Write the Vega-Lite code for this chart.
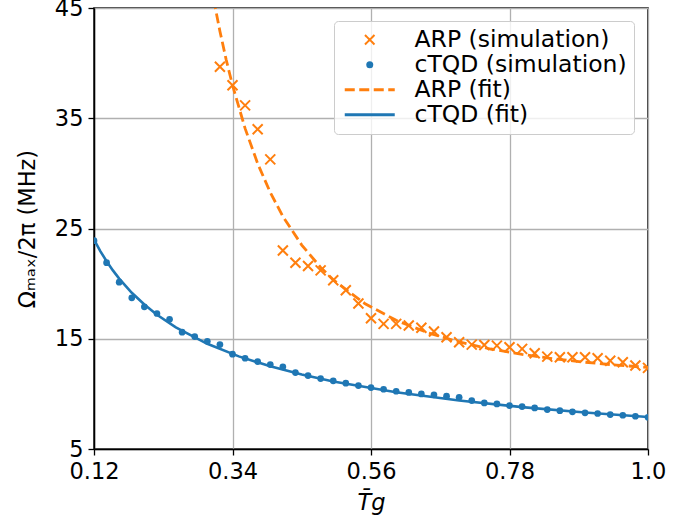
{
  "$schema": "https://vega.github.io/schema/vega-lite/v6.json",
  "width": 554,
  "height": 441,
  "autosize": {"type": "none"},
  "padding": {"left": 94, "top": 8, "right": 52, "bottom": 79},
  "background": "white",
  "config": {
    "font": "DejaVu Sans",
    "view": {"stroke": "black", "strokeWidth": 1.5},
    "axis": {
      "labelFont": "DejaVu Sans", "labelFontSize": 22.5, "labelColor": "black",
      "titleFont": "DejaVu Sans", "titleFontSize": 22.5, "titleColor": "black", "titleFontWeight": "normal",
      "grid": true, "gridColor": "#b0b0b0", "gridWidth": 1.3,
      "domainColor": "black", "domainWidth": 1.5,
      "tickColor": "black", "tickSize": 6, "tickWidth": 1.3, "labelPadding": 5
    }
  },
  "datasets": {
    "sim": [
      {"series": "ARP (simulation)", "Tg": 0.32, "omega": 39.67},
      {"series": "ARP (simulation)", "Tg": 0.34, "omega": 38.0},
      {"series": "ARP (simulation)", "Tg": 0.36, "omega": 36.17},
      {"series": "ARP (simulation)", "Tg": 0.38, "omega": 34.0},
      {"series": "ARP (simulation)", "Tg": 0.40, "omega": 31.27},
      {"series": "ARP (simulation)", "Tg": 0.42, "omega": 23.0},
      {"series": "ARP (simulation)", "Tg": 0.44, "omega": 21.9},
      {"series": "ARP (simulation)", "Tg": 0.46, "omega": 21.6},
      {"series": "ARP (simulation)", "Tg": 0.48, "omega": 21.2},
      {"series": "ARP (simulation)", "Tg": 0.50, "omega": 20.3},
      {"series": "ARP (simulation)", "Tg": 0.52, "omega": 19.4},
      {"series": "ARP (simulation)", "Tg": 0.54, "omega": 18.2},
      {"series": "ARP (simulation)", "Tg": 0.56, "omega": 16.86},
      {"series": "ARP (simulation)", "Tg": 0.58, "omega": 16.35},
      {"series": "ARP (simulation)", "Tg": 0.60, "omega": 16.35},
      {"series": "ARP (simulation)", "Tg": 0.62, "omega": 16.2},
      {"series": "ARP (simulation)", "Tg": 0.64, "omega": 16.0},
      {"series": "ARP (simulation)", "Tg": 0.66, "omega": 15.66},
      {"series": "ARP (simulation)", "Tg": 0.68, "omega": 15.14},
      {"series": "ARP (simulation)", "Tg": 0.70, "omega": 14.68},
      {"series": "ARP (simulation)", "Tg": 0.72, "omega": 14.47},
      {"series": "ARP (simulation)", "Tg": 0.74, "omega": 14.44},
      {"series": "ARP (simulation)", "Tg": 0.76, "omega": 14.38},
      {"series": "ARP (simulation)", "Tg": 0.78, "omega": 14.23},
      {"series": "ARP (simulation)", "Tg": 0.80, "omega": 14.08},
      {"series": "ARP (simulation)", "Tg": 0.82, "omega": 13.68},
      {"series": "ARP (simulation)", "Tg": 0.84, "omega": 13.38},
      {"series": "ARP (simulation)", "Tg": 0.86, "omega": 13.32},
      {"series": "ARP (simulation)", "Tg": 0.88, "omega": 13.32},
      {"series": "ARP (simulation)", "Tg": 0.90, "omega": 13.32},
      {"series": "ARP (simulation)", "Tg": 0.92, "omega": 13.23},
      {"series": "ARP (simulation)", "Tg": 0.94, "omega": 13.0},
      {"series": "ARP (simulation)", "Tg": 0.96, "omega": 12.87},
      {"series": "ARP (simulation)", "Tg": 0.98, "omega": 12.57},
      {"series": "ARP (simulation)", "Tg": 1.00, "omega": 12.36},
      {"series": "cTQD (simulation)", "Tg": 0.12, "omega": 23.9},
      {"series": "cTQD (simulation)", "Tg": 0.14, "omega": 21.9},
      {"series": "cTQD (simulation)", "Tg": 0.16, "omega": 20.13},
      {"series": "cTQD (simulation)", "Tg": 0.18, "omega": 18.71},
      {"series": "cTQD (simulation)", "Tg": 0.20, "omega": 17.9},
      {"series": "cTQD (simulation)", "Tg": 0.22, "omega": 17.29},
      {"series": "cTQD (simulation)", "Tg": 0.24, "omega": 16.77},
      {"series": "cTQD (simulation)", "Tg": 0.26, "omega": 15.6},
      {"series": "cTQD (simulation)", "Tg": 0.28, "omega": 15.2},
      {"series": "cTQD (simulation)", "Tg": 0.30, "omega": 14.77},
      {"series": "cTQD (simulation)", "Tg": 0.32, "omega": 14.47},
      {"series": "cTQD (simulation)", "Tg": 0.34, "omega": 13.6},
      {"series": "cTQD (simulation)", "Tg": 0.36, "omega": 13.23},
      {"series": "cTQD (simulation)", "Tg": 0.38, "omega": 12.93},
      {"series": "cTQD (simulation)", "Tg": 0.40, "omega": 12.66},
      {"series": "cTQD (simulation)", "Tg": 0.42, "omega": 12.45},
      {"series": "cTQD (simulation)", "Tg": 0.44, "omega": 11.93},
      {"series": "cTQD (simulation)", "Tg": 0.46, "omega": 11.66},
      {"series": "cTQD (simulation)", "Tg": 0.48, "omega": 11.39},
      {"series": "cTQD (simulation)", "Tg": 0.50, "omega": 11.18},
      {"series": "cTQD (simulation)", "Tg": 0.52, "omega": 10.97},
      {"series": "cTQD (simulation)", "Tg": 0.54, "omega": 10.75},
      {"series": "cTQD (simulation)", "Tg": 0.56, "omega": 10.57},
      {"series": "cTQD (simulation)", "Tg": 0.58, "omega": 10.42},
      {"series": "cTQD (simulation)", "Tg": 0.60, "omega": 10.24},
      {"series": "cTQD (simulation)", "Tg": 0.62, "omega": 10.13},
      {"series": "cTQD (simulation)", "Tg": 0.64, "omega": 10.0},
      {"series": "cTQD (simulation)", "Tg": 0.66, "omega": 9.91},
      {"series": "cTQD (simulation)", "Tg": 0.68, "omega": 9.79},
      {"series": "cTQD (simulation)", "Tg": 0.70, "omega": 9.69},
      {"series": "cTQD (simulation)", "Tg": 0.72, "omega": 9.39},
      {"series": "cTQD (simulation)", "Tg": 0.74, "omega": 9.18},
      {"series": "cTQD (simulation)", "Tg": 0.76, "omega": 9.09},
      {"series": "cTQD (simulation)", "Tg": 0.78, "omega": 8.94},
      {"series": "cTQD (simulation)", "Tg": 0.80, "omega": 8.85},
      {"series": "cTQD (simulation)", "Tg": 0.82, "omega": 8.73},
      {"series": "cTQD (simulation)", "Tg": 0.84, "omega": 8.58},
      {"series": "cTQD (simulation)", "Tg": 0.86, "omega": 8.48},
      {"series": "cTQD (simulation)", "Tg": 0.88, "omega": 8.37},
      {"series": "cTQD (simulation)", "Tg": 0.90, "omega": 8.28},
      {"series": "cTQD (simulation)", "Tg": 0.92, "omega": 8.22},
      {"series": "cTQD (simulation)", "Tg": 0.94, "omega": 8.12},
      {"series": "cTQD (simulation)", "Tg": 0.96, "omega": 8.06},
      {"series": "cTQD (simulation)", "Tg": 0.98, "omega": 7.97},
      {"series": "cTQD (simulation)", "Tg": 1.00, "omega": 7.88}
    ],
    "fit": [
      {"series": "ARP (fit)", "Tg": 0.31, "omega": 45.8},
      {"series": "ARP (fit)", "Tg": 0.32, "omega": 42.9},
      {"series": "ARP (fit)", "Tg": 0.33, "omega": 40.3},
      {"series": "ARP (fit)", "Tg": 0.34, "omega": 38.0},
      {"series": "ARP (fit)", "Tg": 0.36, "omega": 34.08},
      {"series": "ARP (fit)", "Tg": 0.38, "omega": 30.89},
      {"series": "ARP (fit)", "Tg": 0.40, "omega": 28.27},
      {"series": "ARP (fit)", "Tg": 0.42, "omega": 26.1},
      {"series": "ARP (fit)", "Tg": 0.45, "omega": 23.5},
      {"series": "ARP (fit)", "Tg": 0.48, "omega": 21.47},
      {"series": "ARP (fit)", "Tg": 0.50, "omega": 20.35},
      {"series": "ARP (fit)", "Tg": 0.55, "omega": 18.2},
      {"series": "ARP (fit)", "Tg": 0.60, "omega": 16.67},
      {"series": "ARP (fit)", "Tg": 0.65, "omega": 15.55},
      {"series": "ARP (fit)", "Tg": 0.70, "omega": 14.71},
      {"series": "ARP (fit)", "Tg": 0.75, "omega": 14.07},
      {"series": "ARP (fit)", "Tg": 0.80, "omega": 13.58},
      {"series": "ARP (fit)", "Tg": 0.85, "omega": 13.18},
      {"series": "ARP (fit)", "Tg": 0.90, "omega": 12.87},
      {"series": "ARP (fit)", "Tg": 0.95, "omega": 12.61},
      {"series": "ARP (fit)", "Tg": 1.00, "omega": 12.40},
      {"series": "cTQD (fit)", "Tg": 0.12, "omega": 24.0},
      {"series": "cTQD (fit)", "Tg": 0.13, "omega": 22.95},
      {"series": "cTQD (fit)", "Tg": 0.14, "omega": 22.03},
      {"series": "cTQD (fit)", "Tg": 0.15, "omega": 21.2},
      {"series": "cTQD (fit)", "Tg": 0.16, "omega": 20.46},
      {"series": "cTQD (fit)", "Tg": 0.18, "omega": 19.17},
      {"series": "cTQD (fit)", "Tg": 0.20, "omega": 18.1},
      {"series": "cTQD (fit)", "Tg": 0.22, "omega": 17.18},
      {"series": "cTQD (fit)", "Tg": 0.25, "omega": 16.03},
      {"series": "cTQD (fit)", "Tg": 0.30, "omega": 14.54},
      {"series": "cTQD (fit)", "Tg": 0.35, "omega": 13.40},
      {"series": "cTQD (fit)", "Tg": 0.40, "omega": 12.5},
      {"series": "cTQD (fit)", "Tg": 0.45, "omega": 11.76},
      {"series": "cTQD (fit)", "Tg": 0.50, "omega": 11.13},
      {"series": "cTQD (fit)", "Tg": 0.60, "omega": 10.15},
      {"series": "cTQD (fit)", "Tg": 0.70, "omega": 9.40},
      {"series": "cTQD (fit)", "Tg": 0.80, "omega": 8.80},
      {"series": "cTQD (fit)", "Tg": 0.90, "omega": 8.31},
      {"series": "cTQD (fit)", "Tg": 1.00, "omega": 7.90}
    ]
  },
  "encoding": {
    "x": {
      "field": "Tg", "type": "quantitative",
      "scale": {"domain": [0.12, 1.0], "nice": false, "zero": false},
      "axis": {
        "values": [0.12, 0.34, 0.56, 0.78, 1.0],
        "labelExpr": "datum.value == 1 ? '1.0' : format(datum.value, '.2f')",
        "title": "T̄g", "titlePadding": 9, "titleFontStyle": "italic", "labelFlush": false
      }
    },
    "y": {
      "field": "omega", "type": "quantitative",
      "scale": {"domain": [5, 45], "nice": false, "zero": false},
      "axis": {
        "values": [5, 15, 25, 35, 45],
        "title": "Ωₘₐₓ/2π (MHz)", "titlePadding": 15, "labelFlush": false
      }
    },
    "color": {
      "field": "series", "type": "nominal",
      "scale": {
        "domain": ["ARP (simulation)", "cTQD (simulation)", "ARP (fit)", "cTQD (fit)"],
        "range": ["#ff7f0e", "#1f77b4", "#ff7f0e", "#1f77b4"]
      },
      "legend": {
        "title": null,
        "orient": "none", "legendX": 240, "legendY": 13,
        "padding": 7, "symbolOffset": 17,
        "fillColor": "rgba(255,255,255,0.8)", "strokeColor": "#cccccc", "cornerRadius": 4,
        "labelFont": "DejaVu Sans", "labelFontSize": 23.5, "labelColor": "black", "labelOffset": 33,
        "symbolSize": 625, "rowPadding": 0, "labelLimit": 400,
        "encode": {
          "symbols": {
            "update": {
              "shape": {"signal": "datum.value === 'ARP (simulation)' ? 'M-1,-1L1,1M-1,1L1,-1' : datum.value === 'cTQD (simulation)' ? 'circle' : 'M-2,0L2,0'"},
              "size": {"signal": "datum.value === 'ARP (simulation)' ? 90 : datum.value === 'cTQD (simulation)' ? 49 : 625"},
              "fill": {"signal": "datum.value === 'cTQD (simulation)' ? '#1f77b4' : 'transparent'"},
              "stroke": {"signal": "indexof(datum.value, 'cTQD') === 0 ? '#1f77b4' : '#ff7f0e'"},
              "strokeWidth": {"signal": "datum.value === 'cTQD (simulation)' ? 0 : datum.value === 'ARP (simulation)' ? 2 : 2.8"},
              "strokeDash": {"signal": "datum.value === 'ARP (fit)' ? [10, 4.5] : [1, 0]"},
              "opacity": {"value": 1}
            }
          }
        }
      }
    }
  },
  "layer": [
    {
      "data": {"name": "fit"},
      "transform": [{"filter": "datum.series === 'cTQD (fit)'"}],
      "mark": {"type": "line", "strokeWidth": 2.6, "clip": true}
    },
    {
      "data": {"name": "fit"},
      "transform": [{"filter": "datum.series === 'ARP (fit)'"}],
      "mark": {"type": "line", "strokeWidth": 2.8, "strokeDash": [10, 4.5], "clip": true}
    },
    {
      "data": {"name": "sim"},
      "transform": [{"filter": "datum.series === 'cTQD (simulation)'"}],
      "mark": {"type": "point", "shape": "circle", "filled": true, "opacity": 1, "size": 45, "clip": true}
    },
    {
      "data": {"name": "sim"},
      "transform": [{"filter": "datum.series === 'ARP (simulation)'"}],
      "mark": {"type": "point", "shape": "M-1,-1L1,1M-1,1L1,-1", "filled": false, "opacity": 1, "size": 100, "strokeWidth": 2, "clip": true}
    }
  ]
}
